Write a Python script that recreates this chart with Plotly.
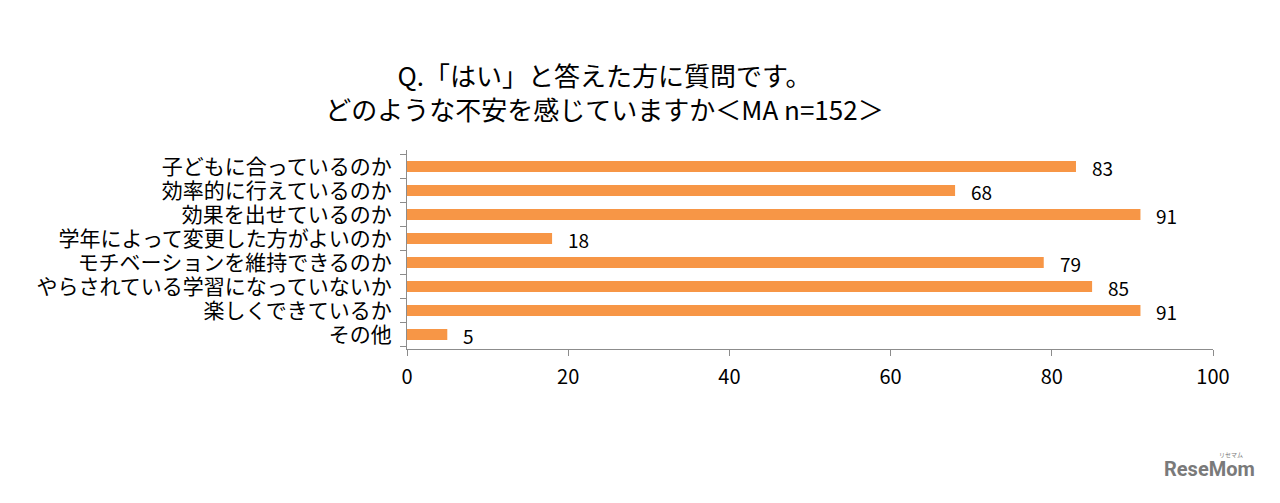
import plotly.graph_objects as go

# 設問データ
categories = [
    '子どもに合っているのか',
    '効率的に行えているのか',
    '効果を出せているのか',
    '学年によって変更した方がよいのか',
    'モチベーションを維持できるのか',
    'やらされている学習になっていないか',
    '楽しくできているか',
    'その他',
]
values = [83, 68, 91, 18, 79, 85, 91, 5]
x_ticks = [0, 20, 40, 60, 80, 100]

title_text = 'Q.「はい」と答えた方に質問です。<br>どのような不安を感じていますか＜MA n=152＞'

jp_font = 'Noto Sans CJK JP'
bar_color = '#F79646'
axis_color = '#8C8C8C'

fig = go.Figure()

fig.add_trace(go.Bar(
    x=values,
    y=categories,
    orientation='h',
    marker=dict(color=bar_color, line=dict(width=0)),
    width=0.46,
    hoverinfo='x+y',
    showlegend=False,
))

# 数値ラベル
for cat, val in zip(categories, values):
    fig.add_annotation(
        x=val, y=cat, text=str(val),
        xanchor='left', xshift=14, yshift=-1,
        showarrow=False,
        font=dict(size=19, family=jp_font, color='#000000'),
    )

# ロゴ
fig.add_annotation(
    xref='paper', yref='paper', x=1.055, y=-0.675,
    xanchor='right', yanchor='bottom',
    text='<b>ReseMom</b>', showarrow=False,
    font=dict(size=20, family='Roboto', color='#7A7A7A'),
)
fig.add_annotation(
    xref='paper', yref='paper', x=1.04, y=-0.565,
    xanchor='right', yanchor='bottom',
    text='リセマム', showarrow=False,
    font=dict(size=6, family=jp_font, color='#7A7A7A'),
)

fig.update_layout(
    title=dict(
        text=title_text,
        font=dict(size=26, family=jp_font, color='#000000'),
        x=0.466, xanchor='center',
        y=0.845, yref='container', yanchor='top',
    ),
    width=1280, height=503,
    paper_bgcolor='white',
    plot_bgcolor='white',
    margin=dict(l=399, r=75, t=142, b=162),
    bargap=0.5,
    xaxis=dict(
        range=[0, 100],
        tickvals=x_ticks,
        ticks='outside', ticklen=6, tickcolor=axis_color,
        showline=True, linecolor=axis_color, linewidth=1,
        showgrid=False, zeroline=False,
        tickfont=dict(size=20, family=jp_font, color='#000000'),
        ticklabelstandoff=4,
        automargin=False,
        fixedrange=True,
    ),
    yaxis=dict(
        autorange='reversed',
        type='category',
        tickmode='array',
        tickvals=categories,
        tickson='boundaries',
        ticks='outside', ticklen=6, tickcolor=axis_color,
        showline=True, linecolor=axis_color, linewidth=1,
        showgrid=False,
        tickfont=dict(size=21, family=jp_font, color='#000000'),
        ticklabelstandoff=10,
        automargin=False,
        fixedrange=True,
    ),
)

fig.write_html('out.html')
